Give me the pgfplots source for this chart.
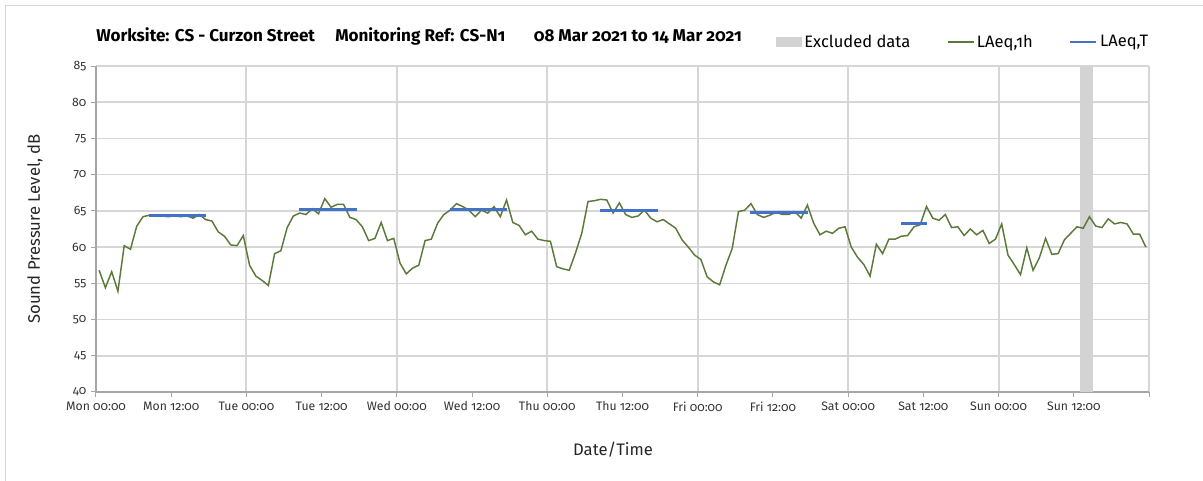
\documentclass[border=0pt]{standalone}
\usepackage{fontspec}
\setmainfont{Fira Sans}[Numbers=OldStyle]
\usepackage{pgfplots}
\pgfplotsset{compat=1.18}
\definecolor{lgreen}{HTML}{5B7A3A}
\definecolor{lblue}{HTML}{4472C4}
\definecolor{excl}{HTML}{D3D3D3}
\definecolor{gridc}{HTML}{D6D6D6}
\definecolor{axc}{HTML}{A6A6A6}

\begin{document}
\begin{tikzpicture}[x=0.75pt,y=0.75pt]
% page is 1203 x 481 "pixels"
\path[use as bounding box] (0,0) rectangle (1203,481);
\draw[gridc, line width=0.75pt] (5,-5) -- (5,475) -- (1210,475);

\begin{axis}[
    at={(72pt,66.75pt)}, anchor=south west,
    scale only axis,
    width=789.75pt, height=244.5pt,
    xmin=0, xmax=168,
    ymin=40, ymax=85,
    % midnight ticks carry the vertical grid, noon ticks come as extra ticks
    xtick={0,24,48,72,96,120,144,168},
    xticklabels={Mon 00:00,Tue 00:00,Wed 00:00,Thu 00:00,Fri 00:00,Sat 00:00,Sun 00:00,{}},
    extra x ticks={12,36,60,84,108,132,156},
    extra x tick labels={Mon 12:00,Tue 12:00,Wed 12:00,Thu 12:00,Fri 12:00,Sat 12:00,Sun 12:00},
    extra x tick style={grid=none},
    ytick={40,45,...,85},
    xmajorgrids=true,
    ymajorgrids=true,
    grid style={gridc, line width=1.2pt},
    x grid style={gridc, line width=1.6pt},
    axis x line*=bottom,
    axis y line*=left,
    axis line style={axc, line width=1pt},
    tick align=outside,
    major tick length=3.75pt,
    tick style={axc, line width=0.75pt},
    /pgf/number format/assume math mode=true,
    tick label style={font=\fontsize{9.2}{10}\selectfont, text=black!80},
    xlabel={Date/Time},
    ylabel={Sound Pressure Level, dB},
    label style={font=\fontsize{12.5}{14}\selectfont, text=black!85},
    xlabel style={at={(axis description cs:0.491,-0.178)}, anchor=center},
    ylabel style={at={(axis description cs:-0.058,0.5)}, anchor=center},
    legend columns=3,
    legend cell align=left,
    legend style={draw=none, fill=none, inner sep=0pt,
        at={(axis description cs:0.6458,1.0736)}, anchor=west,
        font=\fontsize{12.4}{14}\selectfont,
        /tikz/every even column/.append style={column sep=25.5pt}},
]

\addplot[draw=none, fill=excl, area legend,
    legend image code/.code={\fill[excl] (0pt,-3.75pt) rectangle (19pt,3.75pt);}]
    coordinates {(157,40) (157,85) (159,85) (159,40)} -- cycle;
\addlegendentry{Excluded data}

\addplot[lgreen, line width=1.1pt,
    legend image code/.code={\draw[lgreen, line width=1pt] (0pt,0pt) -- (19.5pt,0pt);}]
    table[x=h, y=L] {
h L
0.5 56.8
1.5 54.4
2.5 56.6
3.5 53.9
4.5 60.2
5.5 59.7
6.5 62.9
7.5 64.2
8.5 64.4
9.5 64.4
10.5 64.3
11.5 64.2
12.5 64.3
13.5 64.2
14.5 64.3
15.5 64.0
16.5 64.5
17.5 63.8
18.5 63.6
19.5 62.1
20.5 61.5
21.5 60.3
22.5 60.2
23.5 61.6
24.5 57.5
25.5 56.0
26.5 55.4
27.5 54.7
28.5 59.1
29.5 59.5
30.5 62.7
31.5 64.3
32.5 64.7
33.5 64.5
34.5 65.3
35.5 64.6
36.5 66.7
37.5 65.5
38.5 65.9
39.5 65.9
40.5 64.1
41.5 63.8
42.5 62.8
43.5 60.9
44.5 61.2
45.5 63.4
46.5 60.9
47.5 61.2
48.5 57.8
49.5 56.3
50.5 57.1
51.5 57.5
52.5 60.9
53.5 61.1
54.5 63.3
55.5 64.5
56.5 65.1
57.5 66.0
58.5 65.6
59.5 65.1
60.5 64.2
61.5 65.1
62.5 64.7
63.5 65.6
64.5 64.2
65.5 66.5
66.5 63.4
67.5 63.0
68.5 61.7
69.5 62.2
70.5 61.1
71.5 60.9
72.5 60.8
73.5 57.3
74.5 57.0
75.5 56.8
76.5 59.2
77.5 61.9
78.5 66.3
79.5 66.4
80.5 66.6
81.5 66.5
82.5 64.7
83.5 66.1
84.5 64.5
85.5 64.1
86.5 64.3
87.5 65.1
88.5 64.0
89.5 63.5
90.5 63.8
91.5 63.2
92.5 62.6
93.5 61.0
94.5 60.0
95.5 58.9
96.5 58.3
97.5 55.9
98.5 55.2
99.5 54.8
100.5 57.5
101.5 59.8
102.5 64.9
103.5 65.1
104.5 66.0
105.5 64.5
106.5 64.1
107.5 64.4
108.5 64.8
109.5 64.5
110.5 64.5
111.5 64.9
112.5 64.0
113.5 65.8
114.5 63.3
115.5 61.7
116.5 62.2
117.5 61.9
118.5 62.6
119.5 62.8
120.5 60.0
121.5 58.6
122.5 57.6
123.5 56.0
124.5 60.4
125.5 59.1
126.5 61.1
127.5 61.1
128.5 61.5
129.5 61.6
130.5 62.8
131.5 63.1
132.5 65.6
133.5 64.0
134.5 63.7
135.5 64.5
136.5 62.7
137.5 62.8
138.5 61.6
139.5 62.5
140.5 61.7
141.5 62.3
142.5 60.5
143.5 61.1
144.5 63.2
145.5 58.9
146.5 57.6
147.5 56.2
148.5 59.9
149.5 56.8
150.5 58.5
151.5 61.2
152.5 59.0
153.5 59.1
154.5 61.0
155.5 61.9
156.5 62.8
157.5 62.6
158.5 64.2
159.5 62.9
160.5 62.7
161.5 63.9
162.5 63.2
163.5 63.4
164.5 63.2
165.5 61.8
166.5 61.8
167.5 60.0
};
\addlegendentry{LAeq,1h}

% daytime LAeq,T per day
\addplot[lblue, line width=2.2pt,
    legend image code/.code={\draw[lblue, line width=1.5pt] (0pt,0pt) -- (19.5pt,0pt);}]
    coordinates {(8.4,64.3) (17.6,64.3)};
\addlegendentry{LAeq,T}
\addplot[lblue, line width=2.2pt, forget plot] coordinates {(32.4,65.2) (41.6,65.2)};
\addplot[lblue, line width=2.2pt, forget plot] coordinates {(56.4,65.2) (65.6,65.2)};
\addplot[lblue, line width=2.2pt, forget plot] coordinates {(80.4,65.1) (89.6,65.1)};
\addplot[lblue, line width=2.2pt, forget plot] coordinates {(104.4,64.8) (113.6,64.8)};
\addplot[lblue, line width=2.2pt, forget plot] coordinates {(128.4,63.2) (132.5,63.2)};
\end{axis}

\begin{scope}[every node/.style={font=\bfseries\fontsize{12.8}{14}\selectfont, inner sep=0pt}]
\node[anchor=base west] at (96,439.7) {Worksite: CS - Curzon Street};
\node[anchor=base west] at (335,439.7) {Monitoring Ref: CS-N1};
\node[anchor=base east] at (742,439.7) {08 Mar 2021 to 14 Mar 2021};
\end{scope}
\end{tikzpicture}
\end{document}
